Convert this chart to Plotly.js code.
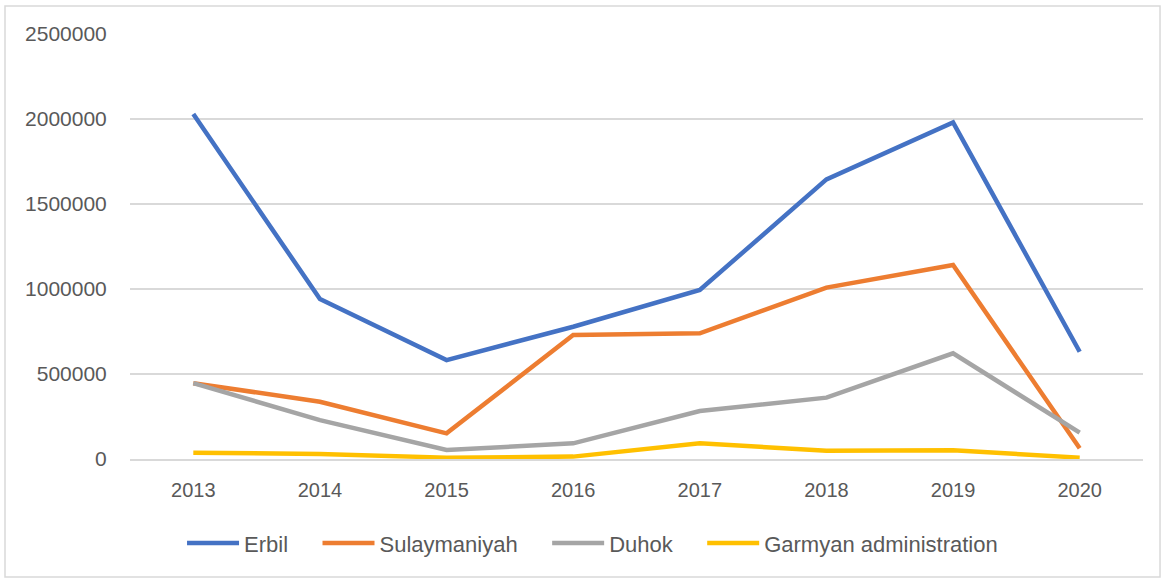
<!DOCTYPE html>
<html>
<head>
<meta charset="utf-8">
<script src="https://cdn.plot.ly/plotly-3.0.1.min.js"></script>
<style>
  html, body { margin: 0; padding: 0; background: #ffffff; }
  #chart { width: 1164px; height: 579px; }
</style>
</head>
<body>
<div id="chart"></div>
<script>
const years = ['2013', '2014', '2015', '2016', '2017', '2018', '2019', '2020'];
const erbil = [2029000, 941000, 582000, 778000, 994000, 1645000, 1980000, 631000];
const sulaymaniyah = [446000, 337000, 151000, 729000, 739000, 1008000, 1141000, 63000];
const duhok = [446000, 229000, 53000, 92000, 282000, 361000, 622000, 155000];
const garmyan = [37000, 30000, 8000, 14000, 92000, 49000, 51000, 8000];

const seriesNames = ['Erbil', 'Sulaymaniyah', 'Duhok', 'Garmyan administration'];
const seriesColors = ['#4472C4', '#ED7D31', '#A5A5A5', '#FFC000'];
const seriesData = [erbil, sulaymaniyah, duhok, garmyan];

const pad = '\u00a0\u00a0\u00a0\u00a0';
const traces = seriesData.map((vals, i) => ({
  type: 'scatter',
  mode: 'lines',
  x: years,
  y: vals,
  name: i < seriesNames.length - 1 ? seriesNames[i] + pad : seriesNames[i],
  line: { color: seriesColors[i], width: 4.5 },
  hovertemplate: seriesNames[i] + '<br>%{x}: %{y}<extra></extra>'
}));

const fontFam = 'Liberation Sans, Arial, sans-serif';
const layout = {
  width: 1164,
  height: 579,
  paper_bgcolor: '#ffffff',
  plot_bgcolor: '#ffffff',
  margin: { l: 130, r: 21, t: 34, b: 120 },
  font: { family: fontFam, size: 20, color: '#595959' },
  showlegend: true,
  legend: {
    orientation: 'h',
    x: 0.4566, xanchor: 'center',
    y: -0.198, yanchor: 'middle',
    itemwidth: 52,
    font: { family: fontFam, size: 22, color: '#595959' },
    traceorder: 'normal'
  },
  xaxis: {
    type: 'category',
    range: [-0.5, 7.5],
    showgrid: false,
    zeroline: false,
    showline: true,
    linecolor: '#D9D9D9',
    linewidth: 1.5,
    ticks: 'outside',
    ticklen: 12,
    tickcolor: 'rgba(0,0,0,0)',
    tickfont: { family: fontFam, size: 20, color: '#595959' },
    fixedrange: true
  },
  yaxis: {
    range: [0, 2500000],
    tickvals: [0, 500000, 1000000, 1500000, 2000000, 2500000],
    ticktext: ['0', '500000', '1000000', '1500000', '2000000', '2500000'],
    showgrid: true,
    gridcolor: '#D9D9D9',
    gridwidth: 1.5,
    zeroline: false,
    showline: false,
    ticks: 'outside',
    ticklen: 18,
    tickcolor: 'rgba(0,0,0,0)',
    tickfont: { family: fontFam, size: 21, color: '#595959' },
    fixedrange: true
  },
  shapes: [{
    type: 'rect',
    xref: 'paper', yref: 'paper',
    x0: -0.1234, x1: 1.0168, y0: -0.2776, y1: 1.0659,
    line: { color: '#D9D9D9', width: 1.5 },
    fillcolor: 'rgba(0,0,0,0)',
    layer: 'below'
  }]
};

Plotly.newPlot('chart', traces, layout, { displayModeBar: false, staticPlot: false });
</script>
</body>
</html>
